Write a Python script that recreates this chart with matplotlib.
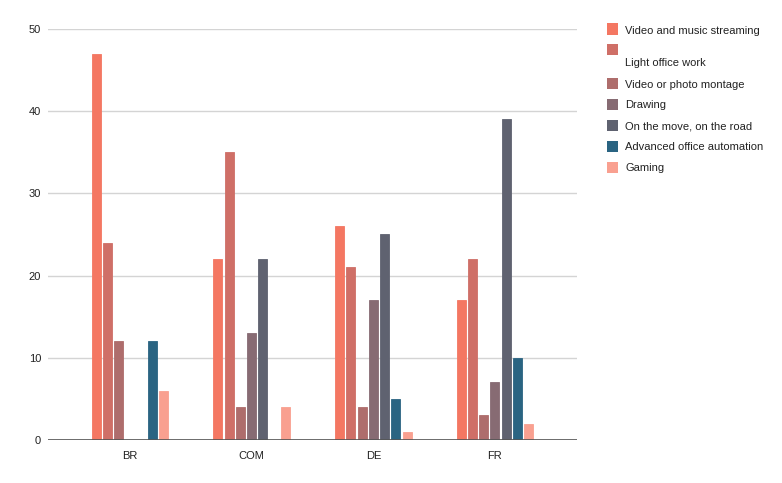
import matplotlib
matplotlib.use("Agg")
import matplotlib.pyplot as plt
import matplotlib.patches as mpatches
import numpy as np

# ── Data ──────────────────────────────────────────────────────────────────────
categories = ["BR", "COM", "DE", "FR"]
series_names = [
    "Video and music streaming",
    "\nLight office work",
    "Video or photo montage",
    "Drawing",
    "On the move, on the road",
    "Advanced office automation",
    "Gaming",
]
streaming = [47, 22, 26, 17]
light_office = [24, 35, 21, 22]
montage = [12, 4, 4, 3]
drawing = [0, 13, 17, 7]
on_the_move = [0, 22, 25, 39]
advanced_office = [12, 0, 5, 10]
gaming = [6, 4, 1, 2]
series_values = [streaming, light_office, montage, drawing,
                 on_the_move, advanced_office, gaming]
yticks = [0, 10, 20, 30, 40, 50]

# ── Style ─────────────────────────────────────────────────────────────────────
COLORS = ["#F47762", "#CF6F67", "#AE6D6C", "#876B73",
          "#5F6270", "#2A6482", "#F9A090"]
plt.rcParams["font.family"] = ["Liberation Sans", "DejaVu Sans"]
plt.rcParams["font.size"] = 8

W, H = 782, 483
fig = plt.figure(figsize=(W / 100, H / 100), dpi=100)
ax = fig.add_axes([48 / W, 1 - 440 / H, (577 - 48) / W, (440 - 29) / H])

x = np.arange(len(categories))
step = 0.093
width = 0.074
n = len(series_values)
for i, (vals, col) in enumerate(zip(series_values, COLORS)):
    offs = (i - (n - 1) / 2) * step
    ax.bar(x + offs, vals, width=width, color=col, edgecolor=col,
           linewidth=0.6, zorder=3)

ax.set_xlim(-0.674, 3.674)
ax.set_ylim(0, 50)
ax.set_yticks(yticks)
ax.set_xticks(x)
ax.set_xticklabels(categories)
ax.grid(axis="y", color="#D4D4D4", lw=1.0, zorder=0)
ax.axhline(0, color="#555555", lw=1.2, zorder=4)
for s in ax.spines.values():
    s.set_visible(False)
ax.tick_params(axis="both", length=0, labelsize=8, colors="#222222")
ax.tick_params(axis="y", pad=5)
ax.tick_params(axis="x", pad=8)

# ── Legend (drawn by hand to mimic the source layout) ─────────────────────────
y = 29
for name, col in zip(series_names, COLORS):
    fig.patches.append(mpatches.Rectangle(
        (607 / W, 1 - (y + 5.5) / H), 11 / W, 11 / H,
        transform=fig.transFigure, facecolor=col, edgecolor="none"))
    fig.text(625 / W, 1 - (y - 3.5) / H, name, ha="left", va="top",
             fontsize=8, color="#222222", linespacing=1.25)
    y += 21 + 12 * name.count("\n")

fig.savefig("out.png", dpi=100)
